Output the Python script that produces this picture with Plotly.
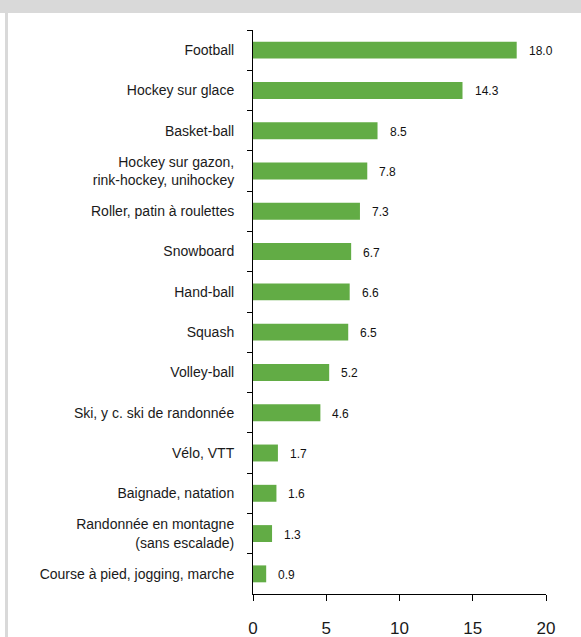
import plotly.graph_objects as go

categories = [
    "Football",
    "Hockey sur glace",
    "Basket-ball",
    "Hockey sur gazon,<br>rink-hockey, unihockey",
    "Roller, patin à roulettes",
    "Snowboard",
    "Hand-ball",
    "Squash",
    "Volley-ball",
    "Ski, y c. ski de randonnée",
    "Vélo, VTT",
    "Baignade, natation",
    "Randonnée en montagne<br>(sans escalade)",
    "Course à pied, jogging, marche",
]
values = [18.0, 14.3, 8.5, 7.8, 7.3, 6.7, 6.6, 6.5, 5.2, 4.6, 1.7, 1.6, 1.3, 0.9]
x_ticks = [0, 5, 10, 15, 20]

W, H = 581, 637
L, R, T, B = 253, 35, 30, 43
pw, ph = W - L - R, H - T - B
FONT = "Liberation Sans, Arial, sans-serif"

fig = go.Figure(go.Bar(
    y=categories, x=values, orientation="h",
    marker=dict(color="#62ac45", line=dict(width=0)),
    width=0.42,
    hoverinfo="skip",
))

for c, v in zip(categories, values):
    fig.add_annotation(x=v, y=c, text=f"{v:.1f}", showarrow=False,
                       xanchor="left", xshift=10, yshift=-1,
                       font=dict(family=FONT, size=12, color="#111111"))

def px_x(p):
    return (p - L) / pw

def px_y(p):
    return (H - B - p) / ph

shapes = [
    dict(type="rect", xref="paper", yref="paper", x0=px_x(0), x1=px_x(W), y0=px_y(13), y1=px_y(0),
         fillcolor="#d9d9d9", line=dict(width=0), layer="below"),
    dict(type="rect", xref="paper", yref="paper", x0=px_x(5), x1=px_x(8), y0=px_y(H), y1=px_y(13),
         fillcolor="#d9d9d9", line=dict(width=0), layer="below"),
]

fig.update_layout(
    width=W, height=H,
    margin=dict(l=L, r=R, t=T, b=B, pad=0),
    paper_bgcolor="white", plot_bgcolor="white",
    showlegend=False,
    shapes=shapes,
    font=dict(family=FONT, color="#1a1a1a"),
    xaxis=dict(range=[0, 20], tickvals=x_ticks, ticks="outside", ticklen=6, tickcolor="black",
               showline=True, linecolor="black", linewidth=1, showgrid=False, zeroline=False,
               tickfont=dict(size=17), ticklabelstandoff=13, automargin=False, fixedrange=True),
    yaxis=dict(autorange="reversed", ticks="outside", tickson="boundaries", ticklen=5, tickcolor="black",
               showline=True, linecolor="black", linewidth=1, showgrid=False, zeroline=False,
               tickfont=dict(size=14), ticklabelstandoff=15, automargin=False, fixedrange=True),
)

fig.write_html("out.html", config={"displayModeBar": False},
               post_script="document.body.style.margin='0';document.body.style.padding='0';")
